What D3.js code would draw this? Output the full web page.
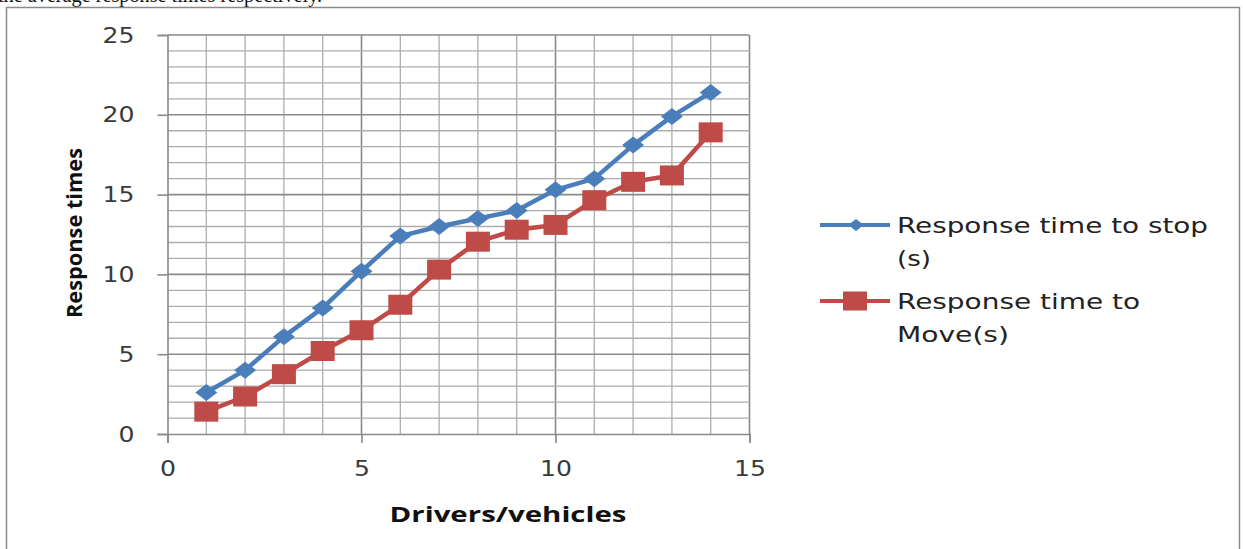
<!DOCTYPE html>
<html>
<head>
<meta charset="utf-8">
<script src="https://cdn.jsdelivr.net/npm/d3@7"></script>
<style>
  html, body { margin: 0; padding: 0; background: #fff; }
  svg { display: block; }
</style>
</head>
<body>
<svg id="chart" width="1243" height="549"></svg>
<script>
// Drivers / vehicles observed
const drivers = [1, 2, 3, 4, 5, 6, 7, 8, 9, 10, 11, 12, 13, 14];
// Response time to stop (s)
const stopTimes = [2.6, 4.0, 6.1, 7.9, 10.2, 12.4, 13.0, 13.5, 14.0, 15.3, 16.0, 18.1, 19.9, 21.4];
// Response time to move (s)
const moveTimes = [1.4, 2.35, 3.75, 5.2, 6.5, 8.1, 10.3, 12.05, 12.8, 13.1, 14.65, 15.8, 16.2, 18.9];

const xTicks = [0, 5, 10, 15];
const yTicks = [0, 5, 10, 15, 20, 25];
const seriesNames = ["Response time to stop (s)", "Response time to Move(s)"];
const legendLines = [["Response time to stop", "(s)"], ["Response time to", "Move(s)"]];

const svg = d3.select("#chart");

const blue = "#4a7ebb";
const red = "#be4b48";

// caption line above the figure, mostly cut off
svg.append("text")
  .attr("x", -2).attr("y", 2)
  .attr("font-family", "Liberation Serif, serif")
  .attr("font-size", 21)
  .attr("textLength", 324).attr("lengthAdjust", "spacingAndGlyphs")
  .attr("fill", "#111")
  .text("the average response times respectively.");

// chart frame
svg.append("rect")
  .attr("x", 6.5).attr("y", 7.5)
  .attr("width", 1233).attr("height", 560)
  .attr("fill", "#fff")
  .attr("stroke", "#8a8a8a")
  .attr("stroke-width", 1.5);

const plot = { left: 167.5, right: 749.5, top: 35, bottom: 434 };

const x = d3.scaleLinear().domain([0, 15]).range([plot.left, plot.right]);
const y = d3.scaleLinear().domain([0, 25]).range([plot.bottom, plot.top]);

// grid: every unit, darker every five
const grid = svg.append("g");
d3.range(1, 16).forEach(v => {
  const major = v % 5 === 0;
  grid.append("line")
    .attr("x1", x(v)).attr("x2", x(v))
    .attr("y1", y(0)).attr("y2", y(25))
    .attr("stroke", major ? "#8a8a8a" : "#adadad")
    .attr("stroke-width", major ? 1.6 : 1.3);
});
d3.range(1, 26).forEach(v => {
  const major = v % 5 === 0;
  grid.append("line")
    .attr("x1", x(0)).attr("x2", x(15))
    .attr("y1", y(v)).attr("y2", y(v))
    .attr("stroke", major ? "#8a8a8a" : "#adadad")
    .attr("stroke-width", major ? 1.6 : 1.3);
});

// axes
const axisFont = "DejaVu Sans, Verdana, sans-serif";
const yAxis = svg.append("g")
  .attr("transform", `translate(${plot.left},0)`)
  .call(d3.axisLeft(y).tickValues(yTicks).tickSize(10).tickPadding(23).tickFormat(d3.format("d")));
const xAxis = svg.append("g")
  .attr("transform", `translate(0,${plot.bottom})`)
  .call(d3.axisBottom(x).tickValues(xTicks).tickSize(9).tickPadding(17).tickFormat(d3.format("d")));

[yAxis, xAxis].forEach(a => {
  a.select(".domain").attr("stroke", "#8a8a8a").attr("stroke-width", 1.6);
  a.selectAll(".tick line").attr("stroke", "#8a8a8a").attr("stroke-width", 1.6);
  a.selectAll(".tick text")
    .attr("font-family", axisFont)
    .attr("font-size", 22)
    .attr("textLength", d => String(d).length * 16)
    .attr("lengthAdjust", "spacingAndGlyphs")
    .attr("fill", "#3a3a3a");
});

// series lines
const line = d3.line().x((d, i) => x(drivers[i])).y(d => y(d));

svg.append("path").datum(stopTimes)
  .attr("d", line).attr("fill", "none")
  .attr("stroke", blue).attr("stroke-width", 4.5).attr("stroke-linejoin", "round");

svg.append("path").datum(moveTimes)
  .attr("d", line).attr("fill", "none")
  .attr("stroke", red).attr("stroke-width", 4.5).attr("stroke-linejoin", "round");

// markers
const diamond = (cx, cy, w, h) => `M${cx},${cy - h / 2}L${cx + w / 2},${cy}L${cx},${cy + h / 2}L${cx - w / 2},${cy}Z`;

svg.append("g").selectAll("rect")
  .data(moveTimes).join("rect")
  .attr("x", (d, i) => x(drivers[i]) - 12)
  .attr("y", d => y(d) - 10)
  .attr("width", 24).attr("height", 20)
  .attr("fill", red);

svg.append("g").selectAll("path")
  .data(stopTimes).join("path")
  .attr("d", (d, i) => diamond(x(drivers[i]), y(d), 22, 17))
  .attr("fill", blue);

// axis titles
svg.append("text")
  .attr("x", 508).attr("y", 522)
  .attr("text-anchor", "middle")
  .attr("font-family", "Open Sans, Liberation Sans, sans-serif")
  .attr("font-weight", "bold")
  .attr("font-size", 21)
  .attr("textLength", 237).attr("lengthAdjust", "spacingAndGlyphs")
  .attr("fill", "#111")
  .text("Drivers/vehicles");

svg.append("text")
  .attr("transform", "translate(82,233) rotate(-90)")
  .attr("text-anchor", "middle")
  .attr("font-family", "Open Sans, Liberation Sans, sans-serif")
  .attr("font-weight", "bold")
  .attr("font-size", 21)
  .attr("textLength", 170).attr("lengthAdjust", "spacingAndGlyphs")
  .attr("fill", "#111")
  .text("Response times");

// legend
const legend = svg.append("g");
const legendY = [225, 301];
const legendTextWidths = [[311, 34], [243, 112]];
seriesNames.forEach((name, k) => {
  const g = legend.append("g").attr("transform", `translate(0,${legendY[k]})`);
  const col = k === 0 ? blue : red;
  g.append("line").attr("x1", 820).attr("x2", 890).attr("y1", 0).attr("y2", 0)
    .attr("stroke", col).attr("stroke-width", 4);
  if (k === 0) {
    g.append("path").attr("d", diamond(856, 0, 16, 12)).attr("fill", col);
  } else {
    g.append("rect").attr("x", 843).attr("y", -9.5).attr("width", 24).attr("height", 19).attr("fill", col);
  }
  legendLines[k].forEach((t, j) => {
    g.append("text")
      .attr("x", 897).attr("y", 8 + j * 33)
      .attr("font-family", axisFont)
      .attr("font-size", 21)
      .attr("textLength", legendTextWidths[k][j]).attr("lengthAdjust", "spacingAndGlyphs")
      .attr("fill", "#222")
      .text(t);
  });
});
</script>
</body>
</html>
